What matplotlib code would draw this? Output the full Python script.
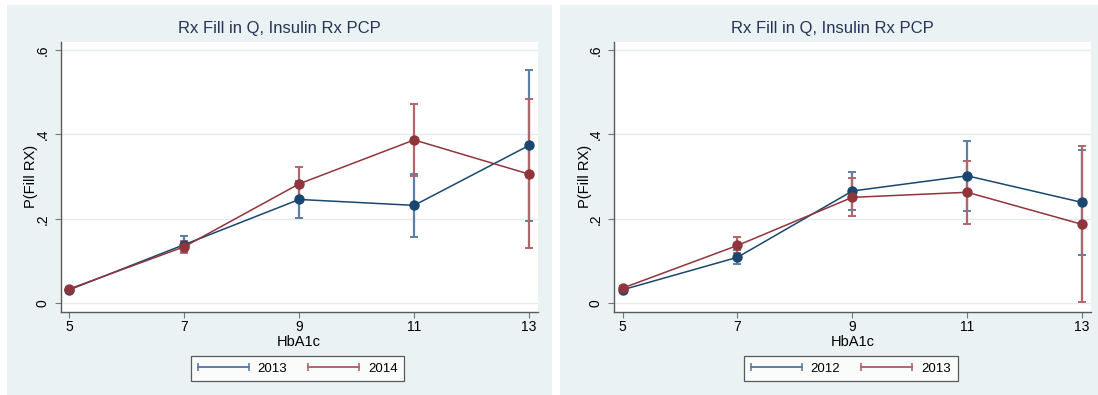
import matplotlib
matplotlib.use("Agg")
import matplotlib.pyplot as plt
from matplotlib.patches import Rectangle
from matplotlib.lines import Line2D
from matplotlib.legend_handler import HandlerLine2D

plt.rcParams['font.family'] = ['Liberation Sans', 'DejaVu Sans']

hba1c = [5, 7, 9, 11, 13]
title = "Rx Fill in Q, Insulin Rx PCP"

# Left panel
left_labels = ["2013", "2014"]
left_a = [0.032, 0.139, 0.246, 0.232, 0.374]
left_a_lo = [0.028, 0.122, 0.202, 0.157, 0.195]
left_a_hi = [0.037, 0.159, 0.290, 0.306, 0.553]
left_b = [0.034, 0.134, 0.283, 0.387, 0.306]
left_b_lo = [0.029, 0.120, 0.243, 0.302, 0.130]
left_b_hi = [0.039, 0.148, 0.322, 0.472, 0.483]

# Right panel
right_labels = ["2012", "2013"]
right_a = [0.032, 0.109, 0.266, 0.302, 0.239]
right_a_lo = [0.027, 0.092, 0.222, 0.219, 0.114]
right_a_hi = [0.037, 0.126, 0.311, 0.385, 0.363]
right_b = [0.036, 0.137, 0.251, 0.263, 0.187]
right_b_lo = [0.031, 0.118, 0.206, 0.188, 0.003]
right_b_hi = [0.041, 0.156, 0.298, 0.338, 0.373]

yticks = [0, 0.2, 0.4, 0.6]
yticklabels = ["0", ".2", ".4", ".6"]

W, H = 1098, 395
fig = plt.figure(figsize=(W / 100, H / 100), dpi=100)
fig.patch.set_facecolor("white")

BG = "#eaf2f3"
NAVY = "#1a476f"
MAROON = "#90353b"
NAVY_E = "#5d7fa5"
MAROON_E = "#b0666b"
TITLE_C = "#243456"

# panel backgrounds
for (x0, x1) in [(7, 552), (560, 1098)]:
    fig.patches.append(Rectangle((x0 / W, 0), (x1 - x0) / W, (H - 5) / H,
                                 transform=fig.transFigure, facecolor=BG,
                                 edgecolor="none", zorder=-10))

def fx(px):
    return px / W

def fy(py):
    return 1 - py / H

panels = [
    (60.7, 537.7, 279.5, left_labels, (left_a, left_a_lo, left_a_hi), (left_b, left_b_lo, left_b_hi)),
    (614.0, 1090.7, 832.0, right_labels, (right_a, right_a_lo, right_a_hi), (right_b, right_b_lo, right_b_hi)),
]
top_px, bot_px = 41.7, 311.7

for (x0, x1, tcx, labels, sa, sb) in panels:
    ax = fig.add_axes([fx(x0), fy(bot_px), (x1 - x0) / W, (bot_px - top_px) / H])
    ax.set_facecolor("white")
    ax.set_xlim(4.85, 13.15)
    ax.set_ylim(-0.0199, 0.6197)
    ax.set_yticks(yticks)
    ax.set_yticklabels(yticklabels, rotation=90, va="center")
    ax.set_xticks(hba1c)
    ax.set_xticklabels([str(v) for v in hba1c])
    ax.grid(axis="y", color="#e3edef", lw=1.0)
    ax.set_axisbelow(True)
    for s in ["top", "right"]:
        ax.spines[s].set_visible(False)
    for s in ["left", "bottom"]:
        ax.spines[s].set_color("#5a5a5a")
        ax.spines[s].set_linewidth(1.0)
    ax.tick_params(axis="both", length=4, width=0.8, color="#777777",
                   labelsize=10, labelcolor="black")
    ax.tick_params(axis="y", pad=4)
    ax.tick_params(axis="x", pad=2)

    handles = []
    for (vals, lo, hi), col, ecol, lab in [(sa, NAVY, NAVY_E, labels[0]),
                                            (sb, MAROON, MAROON_E, labels[1])]:
        yerr = [[v - l for v, l in zip(vals, lo)], [h - v for v, h in zip(vals, hi)]]
        ax.errorbar(hba1c, vals, yerr=yerr, fmt="none", ecolor=ecol,
                    elinewidth=1.6, capsize=2.6, capthick=1.4, zorder=3)
    for (vals, lo, hi), col, ecol, lab in [(sa, NAVY, NAVY_E, labels[0]),
                                            (sb, MAROON, MAROON_E, labels[1])]:
        ax.plot(hba1c, vals, color=col, lw=1.1, marker="o", ms=7.5,
                markeredgewidth=0, zorder=4, alpha=1)
        handles.append(Line2D([0], [0], color=ecol, lw=1.4, marker="|",
                              ms=6, markeredgewidth=1.2, label=lab))

    ax.set_xlabel("HbA1c", fontsize=10.5, labelpad=1)
    ax.set_ylabel("P(Fill RX)", fontsize=10.5, labelpad=-2)
    fig.text(fx(tcx), fy(28), title, ha="center", va="center",
             fontsize=12, color=TITLE_C)

    leg = ax.legend(handles=handles, loc="center", ncol=2,
                    bbox_to_anchor=(fx((x0 + x1) / 2 - 1.5), fy(368.7)),
                    bbox_transform=fig.transFigure, numpoints=2,
                    handler_map={Line2D: HandlerLine2D(marker_pad=0)},
                    handlelength=3.86, handletextpad=0.68, columnspacing=1.6,
                    fontsize=9.5, frameon=True, fancybox=False,
                    borderpad=0.5, borderaxespad=0)
    leg.get_frame().set_edgecolor("#333333")
    leg.get_frame().set_linewidth(0.9)
    leg.get_frame().set_facecolor("white")

fig.savefig("out.png", dpi=100, facecolor=fig.get_facecolor())
